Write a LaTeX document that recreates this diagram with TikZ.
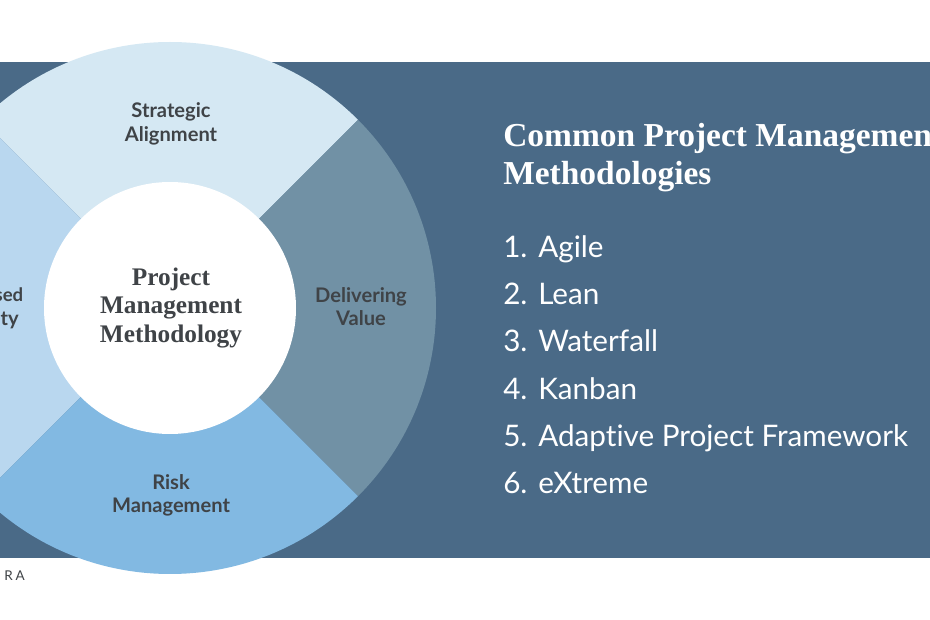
\documentclass[tikz,border=0pt]{standalone}
\usepackage{fontspec}
\setmainfont{Lato}[Ligatures=NoCommon]
\newfontfamily\headfont{Liberation Serif}
\usepackage{tikz}

\definecolor{bandblue}{HTML}{4A6A87}
\definecolor{topblue}{HTML}{D5E8F3}
\definecolor{rightblue}{HTML}{7191A5}
\definecolor{lowblue}{HTML}{82B9E2}
\definecolor{leftblue}{HTML}{B9D7EF}
\definecolor{labelgrey}{HTML}{3F4347}

\tikzset{
  seglabel/.style={text=labelgrey, font=\fontsize{14.3}{16.8}\selectfont\bfseries, align=center},
  hublabel/.style={text=labelgrey, font=\headfont\fontsize{18}{20}\selectfont\bfseries, align=center},
  headlabel/.style={text=white, font=\headfont\fontsize{23.8}{27.2}\selectfont\bfseries, align=left, anchor=north west, inner sep=0pt},
  itemlabel/.style={text=white, font=\fontsize{21.1}{25}\selectfont, anchor=base west, inner sep=0pt},
}

\begin{document}
\begin{tikzpicture}[x=0.025cm,y=0.025cm]

% Page
\useasboundingbox (0,0) rectangle (930,620);
\clip (0,0) rectangle (930,620);
\fill[white] (0,0) rectangle (930,620);

% Band
\fill[bandblue] (0,62) rectangle (930,558);

% Wheel
\begin{scope}[shift={(170,312)}]
\fill[topblue] (0,0) -- (45:266) arc (45:135:266) -- cycle;
\fill[leftblue] (0,0) -- (135:266) arc (135:225:266) -- cycle;
\fill[lowblue] (0,0) -- (225:266) arc (225:315:266) -- cycle;
\fill[rightblue] (0,0) -- (315:266) arc (315:405:266) -- cycle;
\fill[white] (0,0) circle (126);
\end{scope}

% Wheel labels
\node[seglabel] (strategic) at (171,496) {Strategic\\Alignment};
\node[seglabel] (delivering) at (361,313.5) {Delivering\\Value};
\node[seglabel] (risk) at (171,124.5) {Risk\\Management};
\node[seglabel, font=\fontsize{13.2}{16}\selectfont\bfseries, anchor=east, inner sep=0pt] (sed) at (23.5,325) {sed};
\node[seglabel, anchor=east, inner sep=0pt] (ty) at (19,300) {ty};
\node[hublabel] (hub) at (171,312) {Project\\Management\\Methodology};

% Heading
\node[headlabel] (heading) at (503,497) {Common Project Management\\Methodologies};

% List
\foreach \n/\item [count=\i from 0] in {1./Agile,2./Lean,3./Waterfall,4./Kanban,5./Adaptive Project Framework,6./eXtreme}{
  \node[itemlabel] (num\i) at (503,362.5-47.2*\i) {\n};
  \node[itemlabel] (item\i) at (538,362.5-47.2*\i) {\item};
}

% Logo
\node[text=labelgrey, font=\fontsize{9.6}{11}\selectfont, anchor=west, inner sep=0pt] (logo) at (4,44.5) {R\hspace{2pt}A};

\end{tikzpicture}
\end{document}
